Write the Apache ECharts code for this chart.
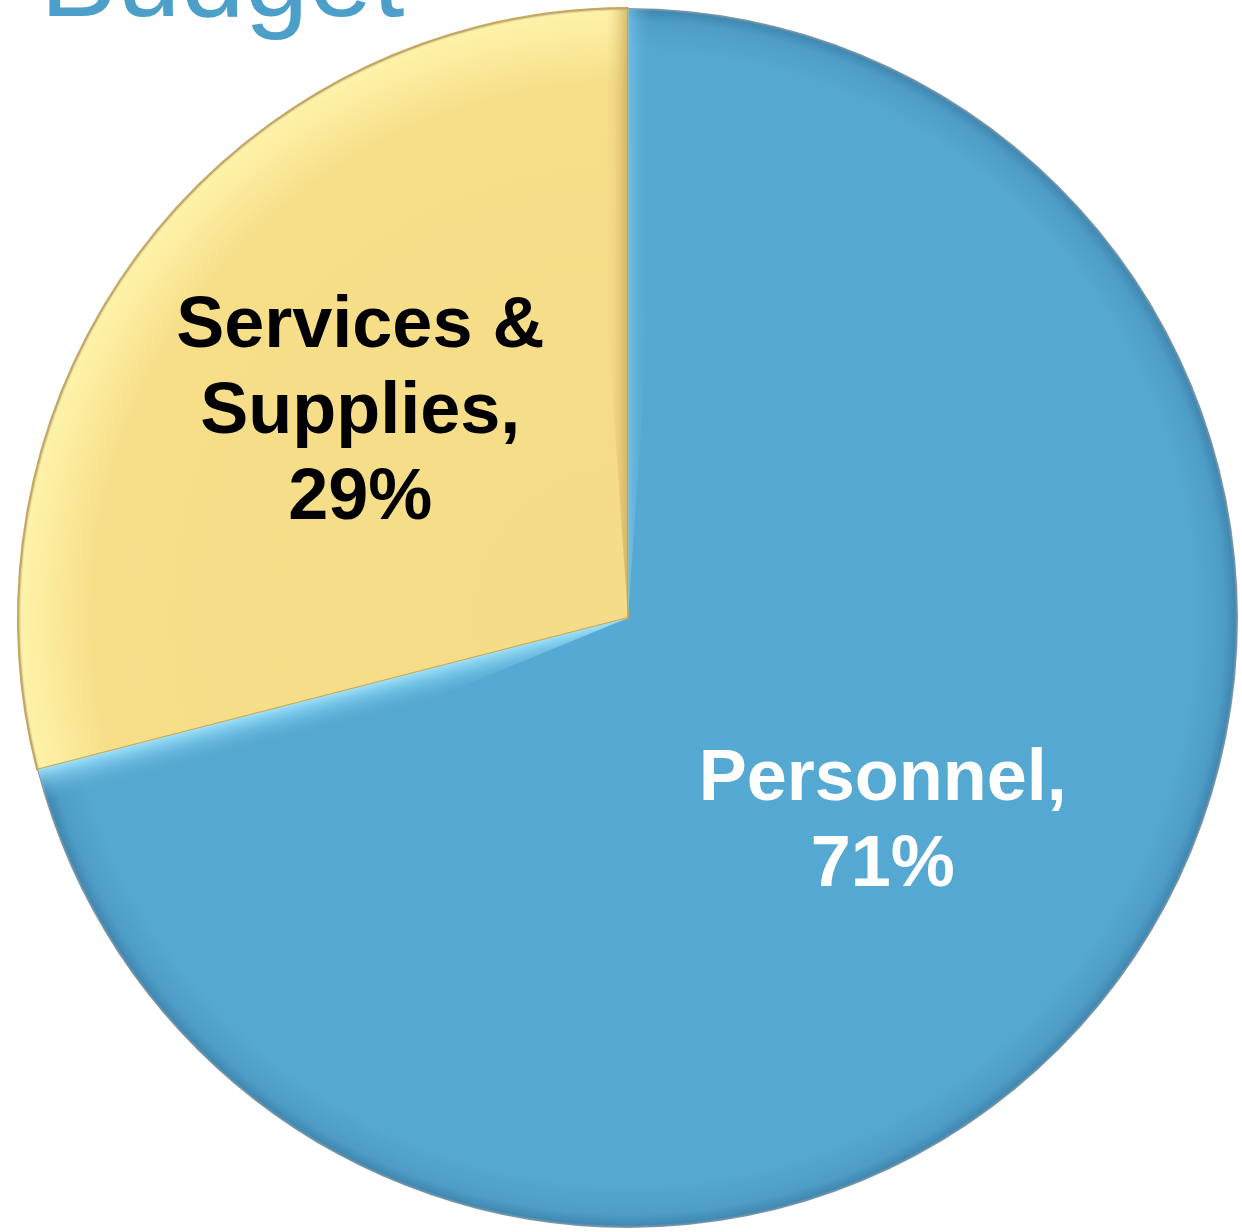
<!DOCTYPE html>
<html>
<head>
<meta charset="utf-8">
<script src="https://cdn.jsdelivr.net/npm/echarts@6/dist/echarts.min.js"></script>
<style>
  html, body { margin: 0; padding: 0; background: #ffffff; }
  #chart { width: 1242px; height: 1232px; }
</style>
</head>
<body>
<div id="chart"></div>
<script>
// Budget split by category (percent of total)
const categories = ['Personnel', 'Services & Supplies'];
const shares = [71, 29];
const labelColors = ['#ffffff', '#000000'];
const labelPads = [[0, 20, 0, 0], [0, 6, 0, 0]];

const CX = 628, CY = 618, R = 610;

// Angle (degrees, ECharts convention) of the boundary between the two slices
const total = shares.reduce((a, b) => a + b, 0);
const splitAngle = 90 - shares[0] / total * 360;
const rad = splitAngle * Math.PI / 180;
// unit normal to the split line, pointing into the first slice (screen coords)
const nx = -Math.sin(rad), ny = -Math.cos(rad);

// Slice fills: flat body with a shaded rim, drawn as a radial gradient about the pie centre
const fills = [
  {
    type: 'radial', x: CX, y: CY, r: R, global: true,
    colorStops: [
      { offset: 0, color: '#56A9D2' },
      { offset: 0.93, color: '#55A8D1' },
      { offset: 0.978, color: '#4E9DC7' },
      { offset: 0.995, color: '#4189B2' },
      { offset: 1, color: '#8A9AA6' }
    ]
  },
  {
    type: 'radial', x: CX, y: CY, r: R, global: true,
    colorStops: [
      { offset: 0, color: '#F5DC88' },
      { offset: 0.88, color: '#F7DF8A' },
      { offset: 0.96, color: '#FCEDA0' },
      { offset: 0.995, color: '#FDF2A8' },
      { offset: 1, color: '#B8AE8C' }
    ]
  }
];
const borders = [
  { borderWidth: 0 },
  { borderColor: '#C6A65A', borderWidth: 2 }
];

const pieData = categories.map((name, i) => ({
  name,
  value: shares[i],
  itemStyle: Object.assign({ color: fills[i] }, borders[i])
}));

const labelData = categories.map((name, i) => ({
  name,
  value: shares[i],
  label: { color: labelColors[i], padding: labelPads[i] }
}));

// Bevel highlights drawn as thin wedges over the slice edges
const bevelBase = {
  type: 'pie',
  center: [CX, CY],
  radius: [0, R - 1],
  clockwise: true,
  silent: true,
  label: { show: false },
  labelLine: { show: false }
};

const chart = echarts.init(document.getElementById('chart'), null, { renderer: 'canvas' });
chart.setOption({
  animation: false,
  backgroundColor: '#ffffff',
  title: {
    text: 'Budget',
    left: 40,
    top: -73,
    padding: 0,
    textStyle: {
      fontFamily: 'Liberation Sans, Arial, sans-serif',
      fontSize: 115,
      fontWeight: 'normal',
      color: '#4B9FC8'
    }
  },
  series: [
    {
      type: 'pie',
      center: [CX, CY],
      radius: [0, R],
      startAngle: 90,
      clockwise: true,
      silent: true,
      label: { show: false },
      labelLine: { show: false },
      data: pieData
    },
    // light bevel on the blue side of the split line
    Object.assign({}, bevelBase, {
      startAngle: splitAngle + 8,
      endAngle: splitAngle,
      data: [{
        value: 1,
        itemStyle: {
          color: {
            type: 'linear', global: true,
            x: CX, y: CY, x2: CX + nx * 34, y2: CY + ny * 34,
            colorStops: [
              { offset: 0, color: 'rgba(160,228,252,0.95)' },
              { offset: 0.35, color: 'rgba(130,205,238,0.6)' },
              { offset: 1, color: 'rgba(85,168,209,0)' }
            ]
          }
        }
      }]
    }),
    // light bevel on the blue side of the top edge
    Object.assign({}, bevelBase, {
      startAngle: 90,
      endAngle: 86,
      data: [{
        value: 1,
        itemStyle: {
          color: {
            type: 'linear', global: true,
            x: CX, y: CY, x2: CX + 24, y2: CY,
            colorStops: [
              { offset: 0, color: 'rgba(120,200,236,0.7)' },
              { offset: 1, color: 'rgba(85,168,209,0)' }
            ]
          }
        }
      }]
    }),
    // darker bevel on the yellow side of the top edge
    Object.assign({}, bevelBase, {
      startAngle: 94,
      endAngle: 90,
      data: [{
        value: 1,
        itemStyle: {
          color: {
            type: 'linear', global: true,
            x: CX, y: CY, x2: CX - 22, y2: CY,
            colorStops: [
              { offset: 0, color: 'rgba(196,164,86,0.75)' },
              { offset: 1, color: 'rgba(240,214,130,0)' }
            ]
          }
        }
      }]
    }),
    {
      // label layer: same slices, transparent, so labels sit a bit further out
      type: 'pie',
      center: [CX, CY],
      radius: [54, R],
      startAngle: 90,
      clockwise: true,
      silent: true,
      itemStyle: { color: 'rgba(0,0,0,0)' },
      label: {
        show: true,
        position: 'inside',
        fontFamily: 'Liberation Sans, Arial, sans-serif',
        fontWeight: 'bold',
        fontSize: 72,
        lineHeight: 86,
        align: 'center',
        formatter: p => p.name.replace(' & ', ' &\n') + ',\n' + p.value + '%'
      },
      labelLine: { show: false },
      data: labelData
    }
  ]
});
</script>
</body>
</html>
